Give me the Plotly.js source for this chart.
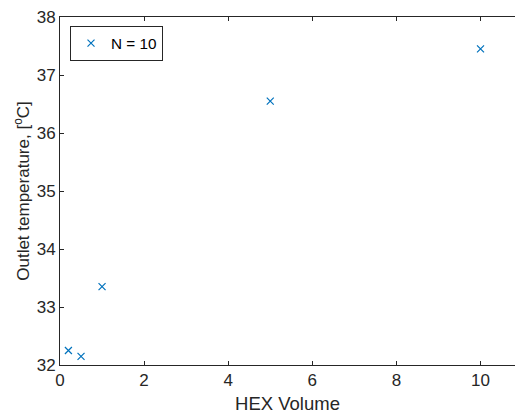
<!DOCTYPE html>
<html><head><meta charset="utf-8">
<script src="https://cdn.plot.ly/plotly-3.0.1.min.js"></script>
<style>html,body{margin:0;padding:0;background:#fff}</style>
</head><body>
<div id="chart" style="width:515px;height:414px"></div>
<script>
const hexVolume = [0.2, 0.5, 1, 5, 10];
const outletTemp = [32.25, 32.15, 33.35, 36.55, 37.45];
const seriesName = 'N = 10';
const xTicks = [0, 2, 4, 6, 8, 10];
const yTicks = [32, 33, 34, 35, 36, 37, 38];

const axisColor = '#262626';
const fontFam = 'Liberation Sans, Arial, Helvetica, sans-serif';

Plotly.newPlot('chart', [{
  x: hexVolume, y: outletTemp, name: seriesName,
  type: 'scatter', mode: 'markers',
  marker: {symbol: 'x-thin', size: 7, color: '#0072BD', line: {width: 1.2, color: '#0072BD'}}
}], {
  width: 515, height: 414,
  margin: {l: 60, r: 0, t: 17, b: 49},
  paper_bgcolor: '#fff', plot_bgcolor: '#fff',
  font: {family: fontFam, color: axisColor, size: 17},
  showlegend: true,
  legend: {x: 0.022, y: 0.975, xanchor: 'left', yanchor: 'top',
           bordercolor: axisColor, borderwidth: 1, bgcolor: '#fff',
           font: {size: 15.3, color: '#000'}, itemwidth: 30, tracegroupgap: 0},
  xaxis: {range: [0, 10.82], tickvals: xTicks, ticktext: xTicks.map(String),
          showgrid: false, zeroline: false, showline: true, linecolor: axisColor, linewidth: 1,
          mirror: 'ticks', ticks: 'inside', ticklen: 4, tickcolor: axisColor,
          tickfont: {size: 17, color: axisColor},
          title: {text: 'HEX Volume', font: {size: 18.5, color: axisColor}, standoff: 10}},
  yaxis: {range: [32, 38], tickvals: yTicks, ticktext: yTicks.map(String),
          showgrid: false, zeroline: false, showline: true, linecolor: axisColor, linewidth: 1,
          ticks: 'inside', ticklen: 4, tickcolor: axisColor,
          tickfont: {size: 17, color: axisColor},
          title: {text: 'Outlet temperature, [<sup>o</sup>C]', font: {size: 17, color: axisColor}, standoff: 2}}
}, {displayModeBar: false, staticPlot: true});
</script>
</body></html>
